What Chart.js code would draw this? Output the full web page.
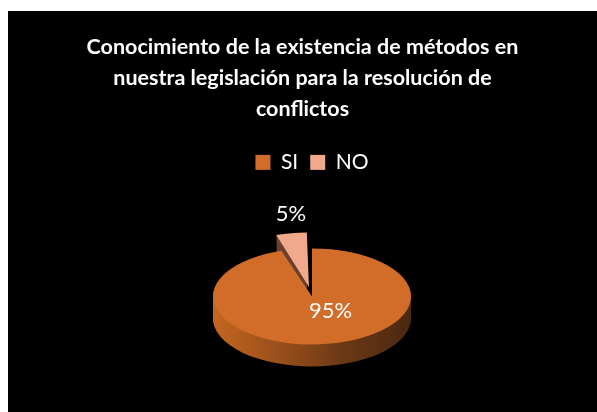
<!DOCTYPE html>
<html>
<head>
<meta charset="utf-8">
<script src="https://cdn.jsdelivr.net/npm/chart.js@4.4.1/dist/chart.umd.min.js"></script>
<style>
  html, body { margin: 0; background: #fff; }
  #box { position: absolute; left: 8px; top: 11px; width: 589px; height: 401px; background: #000; }
</style>
</head>
<body>
<div id="box"><canvas id="pie" width="589" height="401"></canvas></div>
<script>
// --- datos ---
const titleLines = ['Conocimiento de la existencia de métodos en', 'nuestra legislación para la resolución de', 'conflictos'];
const labels = ['SI', 'NO'];
const values = [95, 5];

// --- estilo ---
const topColors = ['#d26c29', '#f0a98b'];
const sideColors = [['#c4661f', '#9a4f1c', '#6a3816', '#4a2811'], ['#7a4a38', '#6b4030', '#603a2c', '#5a3528']];
const tilt = 0.485;   // aplastado vertical del pastel
const depth = 22;     // grosor del pastel en px
const fontFam = 'Lato, "Open Sans", sans-serif';

function squash(ctx, cx, cy, dy) {
  ctx.translate(cx, cy + dy);
  ctx.scale(1, tilt);
  ctx.translate(-cx, -cy);
}

// mismo desplazamiento que usa ArcElement.draw de Chart.js v4
function arcShift(arc) {
  const off = (arc.options.offset || 0) / 4;
  const circ = arc.endAngle - arc.startAngle;
  return off + off * (1 - Math.sin(Math.min(Math.PI, circ || 0)));
}

function slicePath(ctx, arc) {
  const p = arc.getProps(['x', 'y', 'startAngle', 'endAngle', 'outerRadius']);
  const mid = (p.startAngle + p.endAngle) / 2;
  const off = arcShift(arc);
  const x = p.x + Math.cos(mid) * off;
  const y = p.y + Math.sin(mid) * off;
  ctx.beginPath();
  ctx.moveTo(x, y);
  ctx.arc(x, y, p.outerRadius, p.startAngle, p.endAngle);
  ctx.closePath();
}

// caja vacía a la izquierda: corre el pastel y la leyenda, no el título
const leftSpacer = {
  id: 'leftSpacer',
  beforeInit(chart) {
    Chart.layouts.addBox(chart, {
      position: 'left', weight: 0, fullSize: false, options: {},
      update(maxW, maxH) { this.width = 19; this.height = maxH; },
      isHorizontal() { return false; },
      draw() {}
    });
  }
};

// pastel 3D: dibuja los lados y aplasta la cara superior
const pie3d = {
  id: 'pie3d',
  beforeDatasetsDraw(chart) {
    const ctx = chart.ctx;
    const meta = chart.getDatasetMeta(0);
    const cx = meta.data[0].x, cy = meta.data[0].y, r = meta.data[0].outerRadius;
    meta.data.forEach((arc, i) => {
      const g = ctx.createLinearGradient(cx - r, 0, cx + r, 0);
      sideColors[i].forEach((c, k) => g.addColorStop(k / (sideColors[i].length - 1), c));
      for (let d = depth; d > 0; d--) {
        ctx.save();
        squash(ctx, cx, cy, d);
        ctx.fillStyle = g;
        slicePath(ctx, arc);
        ctx.fill();
        ctx.restore();
      }
    });
    ctx.save();
    squash(ctx, cx, cy, 0);
  },
  afterDatasetsDraw(chart) {
    const ctx = chart.ctx;
    ctx.restore();
    const meta = chart.getDatasetMeta(0);
    const total = values.reduce((a, b) => a + b, 0);
    ctx.save();
    ctx.fillStyle = '#fff';
    ctx.font = '22px ' + fontFam;
    ctx.textAlign = 'center';
    ctx.textBaseline = 'middle';
    meta.data.forEach((arc, i) => {
      const mid = (arc.startAngle + arc.endAngle) / 2;
      const rr = i === 0 ? arc.outerRadius * 0.3 : arc.outerRadius + arcShift(arc) + 41;
      const x = arc.x + Math.cos(mid) * rr + (i === 0 ? 14 : 6);
      const y = arc.y + Math.sin(mid) * rr * tilt;
      ctx.fillText(Math.round(values[i] / total * 100) + '%', x, y);
    });
    ctx.restore();
  }
};

new Chart(document.getElementById('pie'), {
  type: 'pie',
  data: {
    labels: labels,
    datasets: [{
      data: values,
      backgroundColor: topColors,
      borderWidth: 0,
      offset: [0, 78],
      radius: 99,
      clip: false
    }]
  },
  options: {
    responsive: false,
    animation: false,
    layout: { padding: { bottom: 2 } },
    plugins: {
      title: {
        display: true,
        text: titleLines,
        color: '#fff',
        font: { family: fontFam, size: 21.5, weight: 'bold', lineHeight: 1.44 },
        padding: { top: 21, bottom: 15 }
      },
      legend: {
        fullSize: false,
        labels: { color: '#fff', boxWidth: 15, boxHeight: 15, padding: 12, font: { family: fontFam, size: 21 } }
      },
      tooltip: { enabled: false }
    }
  },
  plugins: [leftSpacer, pie3d]
});
</script>
</body>
</html>
